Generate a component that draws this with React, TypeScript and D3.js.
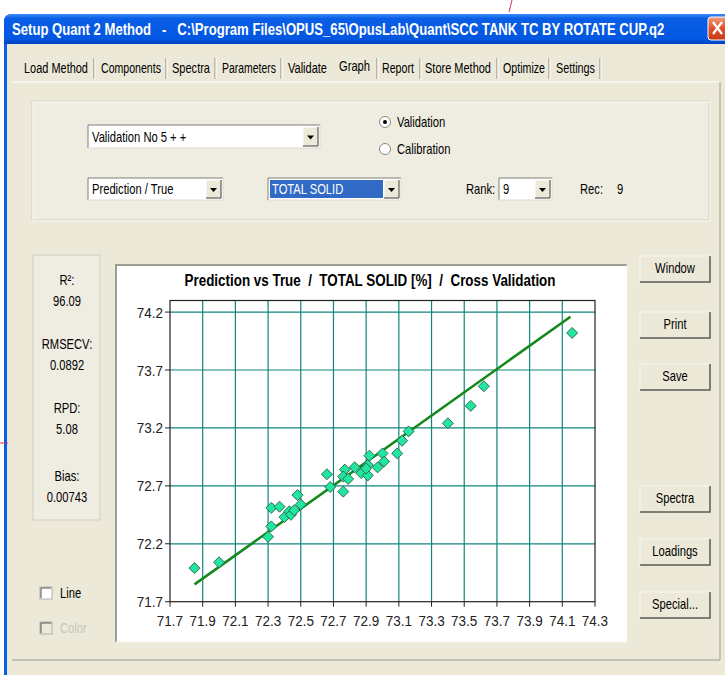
import React, { useLayoutEffect, useRef, useState } from "react";
import * as d3 from "d3";

const FONT = "'Liberation Sans', Arial, sans-serif";

// ---- chart data ----
const trueValues = [
  71.85, 72.0, 72.3, 72.32, 72.32, 72.37, 72.4, 72.43, 72.44, 72.46,
  72.48, 72.5, 72.66, 72.68, 72.76, 72.77, 72.76, 72.79, 72.83, 72.87,
  72.91, 72.91, 72.92, 72.9, 72.97, 73.0, 73.01, 73.09, 73.12, 73.16,
  73.4, 73.54, 73.62, 74.16,
];
const predictedValues = [
  71.99, 72.04, 72.26, 72.35, 72.51, 72.52, 72.43, 72.48, 72.45, 72.49,
  72.62, 72.54, 72.8, 72.69, 72.65, 72.84, 72.78, 72.76, 72.86, 72.81,
  72.79, 72.88, 72.96, 72.85, 72.86, 72.98, 72.91, 72.98, 73.09, 73.17,
  73.24, 73.39, 73.56, 74.02,
];
const fitTrue = [71.85, 74.15];
const fitPredicted = [71.85, 74.16];
const xTicks = [71.7, 71.9, 72.1, 72.3, 72.5, 72.7, 72.9, 73.1, 73.3, 73.5, 73.7, 73.9, 74.1, 74.3];
const yTicks = [71.7, 72.2, 72.7, 73.2, 73.7, 74.2];
const chartTitle = "Prediction vs True  /  TOTAL SOLID [%]  /  Cross Validation";

// ---- dialog texts ----
const windowTitle = "Setup Quant 2 Method   -   C:\\Program Files\\OPUS_65\\OpusLab\\Quant\\SCC TANK TC BY ROTATE CUP.q2";
const tabLabels = ["Load Method", "Components", "Spectra", "Parameters", "Validate", "Graph", "Report", "Store Method", "Optimize", "Settings"];
const statLabels = ["R²:", "RMSECV:", "RPD:", "Bias:"];
const statValues = ["96.09", "0.0892", "5.08", "0.00743"];
const buttonLabels = ["Window", "Print", "Save", "Spectra", "Loadings", "Special..."];

// layout of the dialog pieces
const tabSpans = [[24, 88], [101, 161], [172, 210], [222, 276], [288, 327], [339, 370], [382, 414], [425, 491], [503, 545], [556, 595]];
const tabSeps = [94, 166, 215, 281, 377, 420, 497, 549, 600];
const buttonTops = [256, 312, 364, 486, 539, 592];
const statTops = [280, 344, 408, 476];

const BEIGE = "#ece9d8";
const NARROW = 0.8;

// text squeezed to an exact width (measured once it is in the page)
const FitText = ({ x, y, width, anchor = "start", children, ...rest }: any) => {
  const ref = useRef<SVGTextElement>(null);
  const [k, setK] = useState(NARROW);
  useLayoutEffect(() => {
    if (!ref.current) return;
    const len = ref.current.getComputedTextLength();
    if (len > 0) setK(width / len);
  }, [width, children]);
  return (
    <text ref={ref} transform={`translate(${x},${y}) scale(${k},1)`} textAnchor={anchor}
      fontFamily={FONT} style={{ whiteSpace: "pre" }} {...rest}>
      {children}
    </text>
  );
};

// narrow dialog text
const NText = ({ x, y, anchor = "start", k = NARROW, size = 14, children, ...rest }: any) => (
  <text transform={`translate(${x},${y}) scale(${k},1)`} textAnchor={anchor}
    fontFamily={FONT} fontSize={size} {...rest}>
    {children}
  </text>
);

const Dropdown = ({ x, y, w, h, text, selected = false }: any) => (
  <g>
    <rect x={x} y={y} width={w} height={h} fill="#fff" />
    <path d={`M${x},${y + h} V${y} H${x + w}`} stroke="#7f7f78" fill="none" />
    <path d={`M${x + w},${y} V${y + h} H${x}`} stroke="#dcdad0" fill="none" />
    {selected && <rect x={x + 2} y={y + 2} width={w - 20} height={h - 4} fill="#316ac5" />}
    <NText x={x + 4} y={y + h / 2 + 5} fill={selected ? "#fff" : "#000"}>{text}</NText>
    <rect x={x + w - 17} y={y + 2} width={15} height={h - 4} fill={BEIGE} />
    <path d={`M${x + w - 17},${y + h - 2} V${y + 2} H${x + w - 2}`} stroke="#fff" fill="none" />
    <path d={`M${x + w - 2},${y + 2} V${y + h - 2} H${x + w - 17}`} stroke="#404040" fill="none" />
    <path d={`M${x + w - 13},${y + h / 2 - 1} h7 l-3.5,4 z`} fill="#000" />
  </g>
);

const Radio = ({ cx, cy, on }: any) => (
  <g>
    <circle cx={cx} cy={cy} r={5.5} fill="#fff" stroke="#8a8a80" />
    {on && <circle cx={cx} cy={cy} r={2} fill="#000" />}
  </g>
);

const Button = ({ y, label }: any) => (
  <g>
    <rect x={640} y={y} width={70} height={26} fill={BEIGE} />
    <path d={`M640,${y + 26} V${y} H710`} stroke="#f8f7f2" fill="none" />
    <path d={`M710,${y} V${y + 26} H640`} stroke="#5a5a55" strokeWidth={1.5} fill="none" />
    <NText x={675} y={y + 17} anchor="middle">{label}</NText>
  </g>
);

const Checkbox = ({ y, label, disabled }: any) => (
  <g>
    <rect x={40} y={y - 6} width={12} height={12} fill={disabled ? BEIGE : "#fff"} stroke="#b0b0a8" />
    <path d={`M41,${y + 5} V${y - 5} H51`} stroke="#555" fill="none" />
    <NText x={60} y={y + 5} fill={disabled ? "#c8c6b8" : "#000"}>{label}</NText>
  </g>
);

const Chart = () => {
  const x = d3.scaleLinear().domain([71.7, 74.3]).range([170, 595]);
  const y = d3.scaleLinear().domain([71.7, 74.3]).range([601.7, 300.5]);
  const fitLine = d3
    .line<number>()
    .x((_, i) => x(fitTrue[i]))
    .y((d) => y(d))(fitPredicted);
  const grid = "#11857a";
  const [x0, x1] = x.range();
  const [y0, y1] = y.range();

  return (
    <g>
      {/* panel */}
      <rect x={116} y={265} width={511} height={377} fill="#fff" />
      <path d="M116,642 V265 H627" stroke="#9d9d92" strokeWidth={2} fill="none" />
      <path d="M627,265 V642 H116" stroke="#f6f5ef" strokeWidth={1} fill="none" />

      <FitText x={370} y={286} width={371} anchor="middle" fontSize={17} fontWeight="bold">
        {chartTitle}
      </FitText>

      {/* grid */}
      {xTicks.slice(1, -1).map((t) => (
        <line key={"gx" + t} x1={x(t)} x2={x(t)} y1={y1} y2={y0} stroke={grid} strokeWidth={1.2} />
      ))}
      {yTicks.slice(1).map((t) => (
        <line key={"gy" + t} x1={x0} x2={x1} y1={y(t)} y2={y(t)} stroke={grid} strokeWidth={1.2} />
      ))}
      {/* frame */}
      <rect x={x0} y={y1} width={x1 - x0} height={y0 - y1} fill="none" stroke="#222" strokeWidth={1.2} />

      {/* ticks + labels */}
      {xTicks.map((t) => (
        <g key={"tx" + t}>
          <line x1={x(t)} x2={x(t)} y1={y0} y2={y0 + 5} stroke="#222" />
          <NText x={x(t)} y={y0 + 24} anchor="middle" k={0.9} size={15} fill="#222">
            {t.toFixed(1)}
          </NText>
        </g>
      ))}
      {yTicks.map((t) => (
        <g key={"ty" + t}>
          <line x1={x0 - 5} x2={x0} y1={y(t)} y2={y(t)} stroke="#222" />
          <NText x={x0 - 7} y={y(t) + 5.5} anchor="end" k={0.9} size={15} fill="#222">
            {t.toFixed(1)}
          </NText>
        </g>
      ))}

      {/* fit line */}
      <path d={fitLine || ""} stroke="#15881c" strokeWidth={2.6} fill="none" />

      {/* samples */}
      {trueValues.map((tv, i) => {
        const cx = x(tv);
        const cy = y(predictedValues[i]);
        return (
          <path
            key={"p" + i}
            d={`M${cx},${cy - 5.5} L${cx + 5.5},${cy} L${cx},${cy + 5.5} L${cx - 5.5},${cy} Z`}
            fill="#20e6a0"
            stroke="#2d5e48"
            strokeWidth={0.9}
          />
        );
      })}
    </g>
  );
};

export default function App() {
  return (
    <div style={{ position: "fixed", left: 0, top: 0 }}>
      <svg width={725} height={675} style={{ display: "block" }}>
        <defs>
          <linearGradient id="titleBar" x1="0" y1="0" x2="0" y2="1">
            <stop offset="0%" stopColor="#3c8cf8" />
            <stop offset="15%" stopColor="#0a5ee6" />
            <stop offset="85%" stopColor="#0256e0" />
            <stop offset="100%" stopColor="#0041bd" />
          </linearGradient>
          <linearGradient id="closeBtn" x1="0" y1="0" x2="0" y2="1">
            <stop offset="0%" stopColor="#f0a080" />
            <stop offset="50%" stopColor="#e0502a" />
            <stop offset="100%" stopColor="#c83a18" />
          </linearGradient>
        </defs>
        <rect width={725} height={675} fill="#fff" />

        {/* window frame */}
        <path d="M4,675 V22 Q4,14 12,14 H725 V675 Z" fill="#0a5ee6" />
        <path d="M4,44 V22 Q4,14 12,14 H725 V44 Z" fill="url(#titleBar)" />
        <rect x={7} y={44} width={718} height={631} fill={BEIGE} />
        <FitText x={12} y={35} width={652} fontSize={17} fontWeight="bold" fill="#fff">
          {windowTitle}
        </FitText>
        <rect x={708} y={17} width={22} height={23} rx={3} fill="url(#closeBtn)" stroke="#fff" />
        <path d="M713,22 L722,34 M722,22 L713,34" stroke="#fff" strokeWidth={2.2} />

        {/* tabs */}
        {tabLabels.map((t, i) => (
          <FitText key={t} x={tabSpans[i][0]} y={t === "Graph" ? 71 : 73} width={tabSpans[i][1] - tabSpans[i][0]} fontSize={14.5}>
            {t}
          </FitText>
        ))}
        {tabSeps.map((s) => (
          <g key={"sep" + s}>
            <line x1={s} x2={s} y1={58} y2={79} stroke="#8a877a" />
            <line x1={s + 1} x2={s + 1} y1={58} y2={79} stroke="#fff" />
          </g>
        ))}
        <line x1={12} x2={720} y1={82} y2={82} stroke="#fff" />
        <line x1={720} x2={720} y1={82} y2={660} stroke="#9d9b8f" />
        <line x1={12} x2={720} y1={660} y2={660} stroke="#9d9b8f" />

        {/* group box */}
        <rect x={32} y={101} width={677} height={119} fill="#efede2" stroke="#d0cebf" />
        <rect x={33} y={102} width={677} height={119} fill="none" stroke="#fff" strokeOpacity={0.8} />

        <Dropdown x={88} y={125} w={232} h={23} text="Validation No 5 + +" />
        <Radio cx={385} cy={122} on />
        <NText x={397} y={127}>Validation</NText>
        <Radio cx={385} cy={149} on={false} />
        <NText x={397} y={154}>Calibration</NText>
        <Dropdown x={88} y={178} w={135} h={22} text="Prediction / True" />
        <Dropdown x={268} y={178} w={133} h={22} text="TOTAL SOLID" selected />
        <NText x={466} y={194}>Rank:</NText>
        <Dropdown x={499} y={178} w={53} h={22} text="9" />
        <NText x={580} y={194}>Rec:</NText>
        <NText x={617} y={194}>9</NText>

        {/* statistics box */}
        <rect x={33} y={255} width={67} height={265} fill="#efede2" stroke="#d0cebf" />
        {statLabels.map((l, i) => (
          <g key={l}>
            <NText x={67} y={statTops[i] + 5} anchor="middle">{l}</NText>
            <NText x={67} y={statTops[i] + 26} anchor="middle">{statValues[i]}</NText>
          </g>
        ))}

        <Checkbox y={593} label="Line" />
        <Checkbox y={628} label="Color" disabled />

        <Chart />

        {buttonLabels.map((b, i) => (
          <Button key={b} y={buttonTops[i]} label={b} />
        ))}

        {/* scan marks */}
        <line x1={512} y1={0} x2={509} y2={12} stroke="#d03050" strokeWidth={1} />
        <line x1={0} y1={443} x2={8} y2={443} stroke="#d03050" strokeWidth={1} />
      </svg>
    </div>
  );
}
